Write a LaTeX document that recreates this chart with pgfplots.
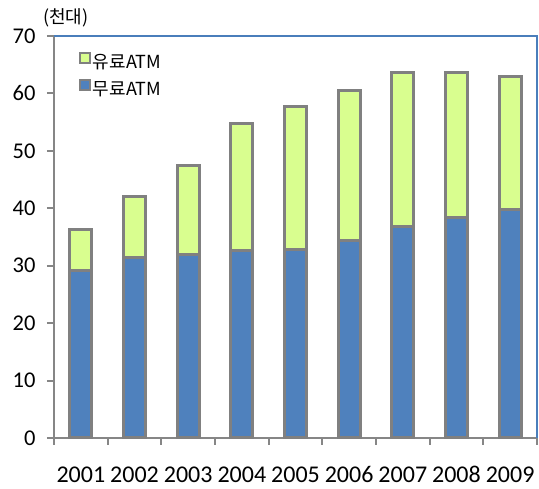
\documentclass[border=0pt]{standalone}
\usepackage{pgfplots}
\pgfplotsset{compat=1.18}
\usepackage{fontspec}
\setmainfont{Carlito}
\newfontfamily\kr{Noto Sans CJK KR}
\definecolor{barblue}{HTML}{4F81BD}
\definecolor{bargreen}{HTML}{D9FE8F}
\definecolor{edgegray}{HTML}{808080}
\definecolor{axisgray}{HTML}{868686}
\definecolor{frameblue}{HTML}{4A7EBB}

\begin{document}
\begin{tikzpicture}
\begin{axis}[
  scale only axis, width=483pt, height=402pt,
  xmin=0.5, xmax=9.5, ymin=0, ymax=70,
  clip=false,
  ybar stacked, bar width=22pt,
  axis line style={draw=none},
  /pgf/number format/assume math mode=true,
  ytick={0,10,...,70},
  xtick={0.5,1.5,...,9.5}, xticklabels={},
  extra x ticks={1,2,3,4,5,6,7,8,9},
  extra x tick labels={2001,2002,2003,2004,2005,2006,2007,2008,2009},
  extra x tick style={major tick length=0pt,
    xticklabel style={yshift=-25pt, font=\fontsize{24}{26}\selectfont}},
  ytick pos=left, xtick pos=bottom,
  tick align=outside, major tick length=7pt,
  tick style={draw=axisgray, line width=2pt},
  ticklabel style={font=\fontsize{22.5}{24}\selectfont},
  yticklabel style={xshift=-8pt},
  every axis plot/.append style={draw=edgegray, line width=3pt},
  legend style={at={(0.045,0.965)}, anchor=north west, draw=none, fill=none,
    font=\kr\fontsize{18}{20}\selectfont, row sep=7pt,
    /tikz/every even column/.append style={column sep=2pt}},
  legend image code/.code={\draw[#1, line width=2pt] (0pt,-1pt) rectangle (10pt,9pt);},
  reverse legend,
]
\addplot[fill=barblue] coordinates {(1,29.1) (2,31.5) (3,32.0) (4,32.7) (5,32.8) (6,34.4) (7,36.8) (8,38.4) (9,39.8)};
\addlegendentry{무료ATM}
\addplot[fill=bargreen] coordinates {(1,7.2) (2,10.5) (3,15.4) (4,22.0) (5,25.0) (6,26.1) (7,26.9) (8,25.3) (9,23.1)};
\addlegendentry{유료ATM}
\draw[frameblue, line width=2pt] (rel axis cs:0,1) -- (rel axis cs:1,1) -- (rel axis cs:1,0);
\draw[axisgray, line width=2.5pt] (rel axis cs:0,1) -- (rel axis cs:0,0) -- (rel axis cs:1,0);
\node[font=\kr\fontsize{18}{20}\selectfont, xshift=12pt, yshift=18pt] at (rel axis cs:0,1) {(천대)};
\end{axis}
\pgfresetboundingbox
\path[use as bounding box] (-54pt,-51pt) rectangle (485pt,438pt);
\end{tikzpicture}
\end{document}
